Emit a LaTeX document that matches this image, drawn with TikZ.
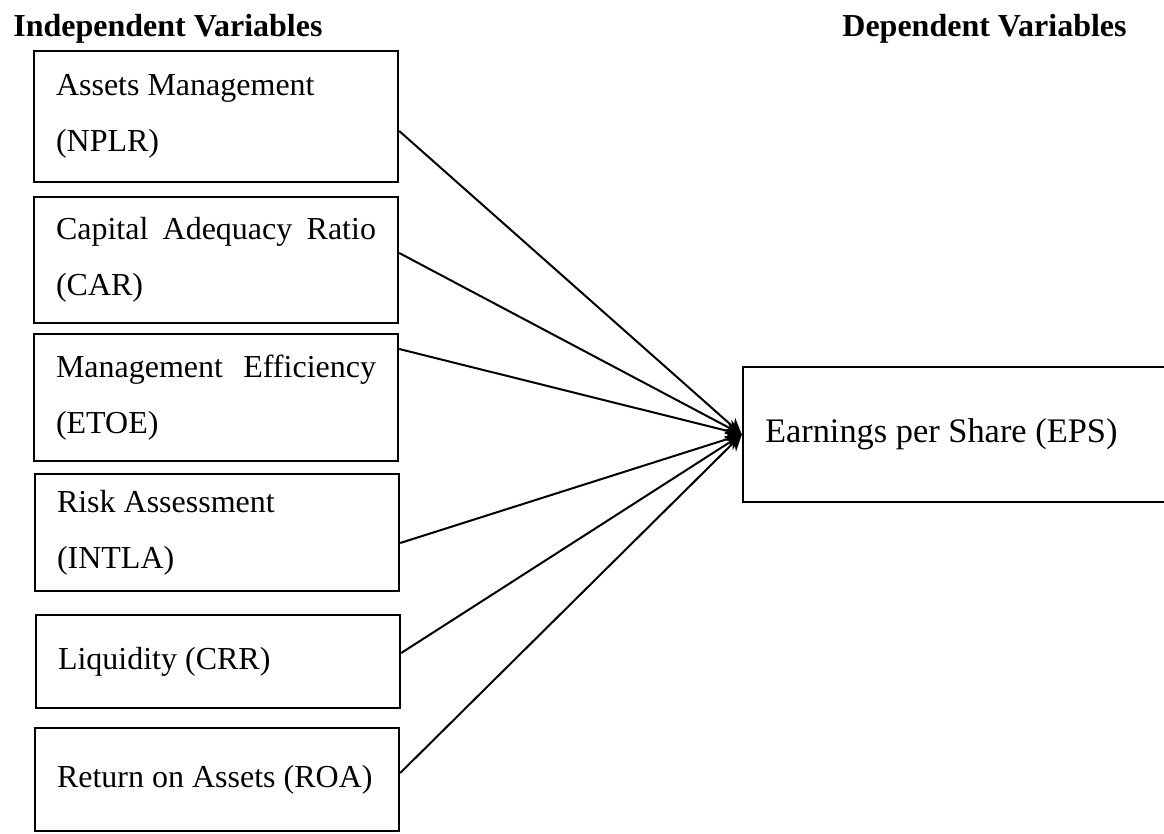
\documentclass[tikz,border=0pt]{standalone}
\usepackage{fontspec}
\setmainfont{Liberation Serif}
\usepackage{tikz}
\usetikzlibrary{arrows.meta,positioning,calc}

\begin{document}
\begin{tikzpicture}[x=0.5pt, y=-0.5pt,
    varbox/.style={draw, line width=1.2pt, text width=160pt, inner xsep=11pt, inner ysep=0pt,
                   minimum width=182pt, align=justify, font=\fontsize{16}{28}\selectfont},
    heading/.style={anchor=base west, inner sep=0pt, font=\fontsize{16}{18}\selectfont\bfseries},
    link/.style={line width=1pt, -{Stealth[length=8pt, width=8pt]}}]
  % Page frame
  \useasboundingbox (0,0) rectangle (1164,834);

  % Column headings
  \node[heading] (indep) at (13,37) {Independent Variables};
  \node[heading] (dep) at (842,37) {Dependent Variables};

  % Independent variables
  \node[varbox, minimum height=65.5pt] (npl) at (216,116.5) {Assets Management\\(NPLR)};
  \node[varbox, minimum height=63pt] (car) at (216,260) {Capital Adequacy Ratio\linebreak (CAR)};
  \node[varbox, minimum height=63.5pt] (etoe) at (216,397.5) {Management Efficiency\linebreak (ETOE)};
  \node[varbox, minimum height=58.5pt] (intla) at (217,532.5) {Risk Assessment\\(INTLA)};
  \node[varbox, minimum height=46.5pt] (crr) at (218,661.5) {Liquidity (CRR)};
  \node[varbox, minimum height=51.5pt] (roa) at (217,779.5) {Return on Assets (ROA)};

  % Dependent variable (runs off the right edge)
  \node[varbox, text width=194pt, minimum width=216pt, minimum height=67.5pt,
        font=\fontsize{17.2}{20}\selectfont] (eps) at (959,434.5)
    {Earnings per Share (EPS)};

  % Links
  \draw[link] ([yshift=-7.25pt]npl.east) -- (eps.west);
  \draw[link] ([yshift=3.5pt]car.east) -- (eps.west);
  \draw[link] ([yshift=24.25pt]etoe.east) -- (eps.west);
  \draw[link] ([yshift=-5.25pt]intla.east) -- (eps.west);
  \draw[link] ([yshift=4.25pt]crr.east) -- (eps.west);
  \draw[link] ([yshift=3.25pt]roa.east) -- (eps.west);
\end{tikzpicture}
\end{document}
